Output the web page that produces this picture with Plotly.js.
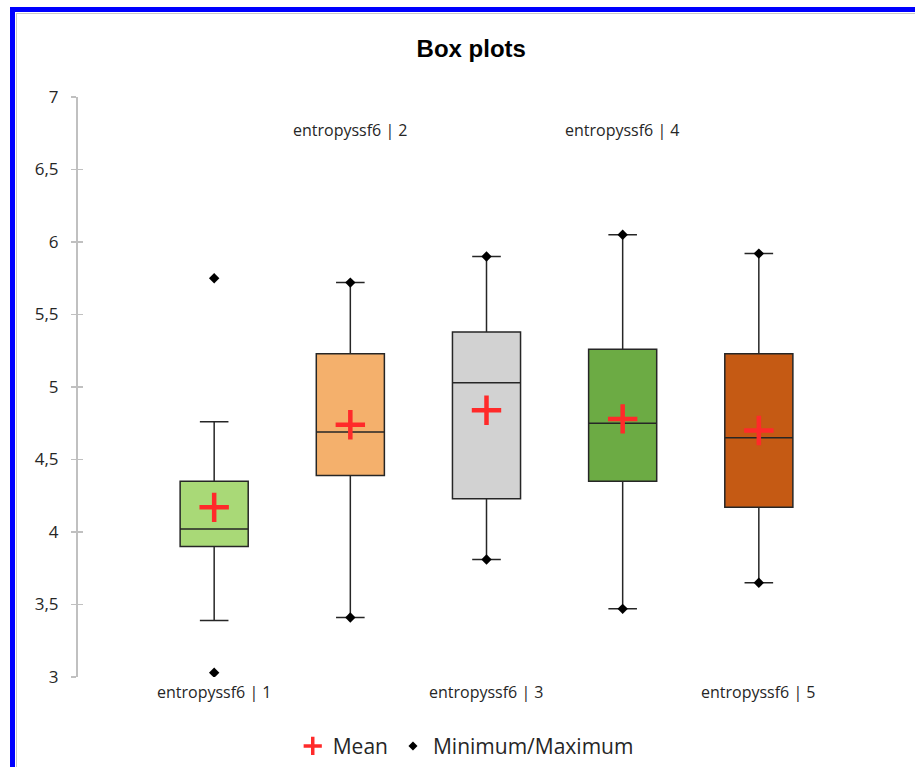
<!DOCTYPE html>
<html>
<head>
<meta charset="utf-8">
<script src="https://cdn.plot.ly/plotly-3.0.1.min.js"></script>
<style>
  html, body { margin: 0; padding: 0; background: #fff; overflow: hidden; }
  #chart { width: 915px; height: 767px; }
</style>
</head>
<body>
<div id="chart"></div>
<script>
// ---- data ----
const categories = ["entropyssf6 | 1", "entropyssf6 | 2", "entropyssf6 | 3", "entropyssf6 | 4", "entropyssf6 | 5"];
const lowerWhisker = [3.39, 3.41, 3.81, 3.47, 3.65];
const q1Values     = [3.90, 4.39, 4.23, 4.35, 4.17];
const medianValues = [4.02, 4.69, 5.03, 4.75, 4.65];
const q3Values     = [4.35, 5.23, 5.38, 5.26, 5.23];
const upperWhisker = [4.76, 5.72, 5.90, 6.05, 5.92];
const meanValues   = [4.17, 4.74, 4.84, 4.78, 4.70];
const minValues    = [3.03, 3.41, 3.81, 3.47, 3.65];
const maxValues    = [5.75, 5.72, 5.90, 6.05, 5.92];
const boxColors    = ["#a9d977", "#f4b06c", "#d2d2d2", "#6cab44", "#c55a14"];
const yTicks       = [3, 3.5, 4, 4.5, 5, 5.5, 6, 6.5, 7];

const pos = categories.map((c, i) => i + 1);

const traces = [];
categories.forEach((c, i) => {
  traces.push({
    type: "box",
    name: c,
    x: [pos[i]],
    q1: [q1Values[i]],
    median: [medianValues[i]],
    q3: [q3Values[i]],
    lowerfence: [lowerWhisker[i]],
    upperfence: [upperWhisker[i]],
    width: 0.5,
    whiskerwidth: 0.42,
    fillcolor: boxColors[i],
    line: { color: "#262626", width: 1.5 },
    boxpoints: false,
    showlegend: false,
    hoverinfo: "skip"
  });
});

// mean markers
traces.push({
  type: "scatter",
  mode: "markers",
  name: "Mean",
  x: pos,
  y: meanValues,
  marker: { symbol: "cross-thin", size: 21, line: { color: "#ff2a2a", width: 4.5 }, color: "#ff2a2a" },
  showlegend: false,
  hoverinfo: "skip"
});

// min / max markers
traces.push({
  type: "scatter",
  mode: "markers",
  name: "Minimum/Maximum",
  x: pos.concat(pos),
  y: minValues.concat(maxValues),
  marker: { symbol: "diamond", size: 8, color: "#000000" },
  showlegend: false,
  hoverinfo: "skip"
});

// legend-only entries
traces.push({
  type: "scatter", mode: "markers", name: "Mean",
  x: [null], y: [null],
  marker: { symbol: "cross-thin", size: 13, line: { color: "#ff2a2a", width: 3.5 }, color: "#ff2a2a" },
  hoverinfo: "skip"
});
traces.push({
  type: "scatter", mode: "markers", name: "Minimum/Maximum",
  x: [null], y: [null],
  marker: { symbol: "diamond", size: 7, color: "#000000" },
  hoverinfo: "skip"
});

// category labels: alternate below / above
const annotations = categories.map((c, i) => ({
  x: pos[i],
  xref: "x",
  y: i % 2 === 0 ? -0.004 : 0.943,
  yref: "paper",
  yanchor: i % 2 === 0 ? "top" : "middle",
  text: c,
  showarrow: false,
  font: { family: "Open Sans, sans-serif", size: 16, color: "#262626" }
}));

// outer frame (blue top/left edge with thin grey inner line), in paper coords
const ml = 78, mr = 20, mt = 97, mb = 90, W = 915, H = 767;
const pw = W - ml - mr, ph = H - mt - mb;
const px = v => (v - ml) / pw;
const py = v => (H - mb - v) / ph;
const shapes = [
  { type: "line", xref: "paper", yref: "paper", x0: px(12.5), x1: px(12.5), y0: py(7), y1: py(H + 5), line: { color: "#0000ff", width: 5 } },
  { type: "line", xref: "paper", yref: "paper", x0: px(10), x1: px(W + 5), y0: py(9.5), y1: py(9.5), line: { color: "#0000ff", width: 5 } },
  { type: "line", xref: "paper", yref: "paper", x0: px(16.5), x1: px(16.5), y0: py(13), y1: py(H + 5), line: { color: "#c8c8c8", width: 1 } },
  { type: "line", xref: "paper", yref: "paper", x0: px(16), x1: px(W + 5), y0: py(13.5), y1: py(13.5), line: { color: "#c8c8c8", width: 1 } }
];

const layout = {
  width: W,
  height: H,
  paper_bgcolor: "#ffffff",
  plot_bgcolor: "#ffffff",
  separators: ",.",
  margin: { l: ml, r: mr, t: mt, b: mb },
  title: {
    text: "<b>Box plots</b>",
    font: { family: "Liberation Sans, Arial, sans-serif", size: 24, color: "#000" },
    xref: "container", x: 0.515, xanchor: "center",
    yref: "container", y: 0.936, yanchor: "middle"
  },
  xaxis: {
    range: [0, 6],
    visible: false,
    fixedrange: true
  },
  yaxis: {
    range: [3, 7],
    tickvals: yTicks,
    showgrid: false,
    zeroline: false,
    showline: true,
    linecolor: "#c0c0c0",
    linewidth: 2,
    ticks: "outside",
    ticklen: 5,
    tickcolor: "#c0c0c0",
    tickwidth: 1.5,
    ticklabelstandoff: 9,
    tickfont: { family: "Open Sans, sans-serif", size: 17, color: "#262626" },
    fixedrange: true
  },
  yaxis2: {
    range: [3, 7],
    overlaying: "y",
    side: "left",
    anchor: "x",
    tickvals: yTicks,
    showticklabels: false,
    showgrid: false,
    zeroline: false,
    showline: false,
    ticks: "inside",
    ticklen: 5,
    tickcolor: "#c0c0c0",
    tickwidth: 1.5
  },
  legend: {
    orientation: "h",
    xref: "container", x: 0.509, xanchor: "center",
    yref: "container", y: 0.027, yanchor: "middle",
    font: { family: "Open Sans, sans-serif", size: 21, color: "#262626" },
    itemsizing: "trace",
    itemwidth: 30
  },
  annotations: annotations,
  shapes: shapes,
  showlegend: true
};

// dummy trace to activate yaxis2 ticks
traces.push({ type: "scatter", x: [null], y: [null], yaxis: "y2", showlegend: false, hoverinfo: "skip" });

Plotly.newPlot("chart", traces, layout, { displayModeBar: false, staticPlot: true });
</script>
</body>
</html>
